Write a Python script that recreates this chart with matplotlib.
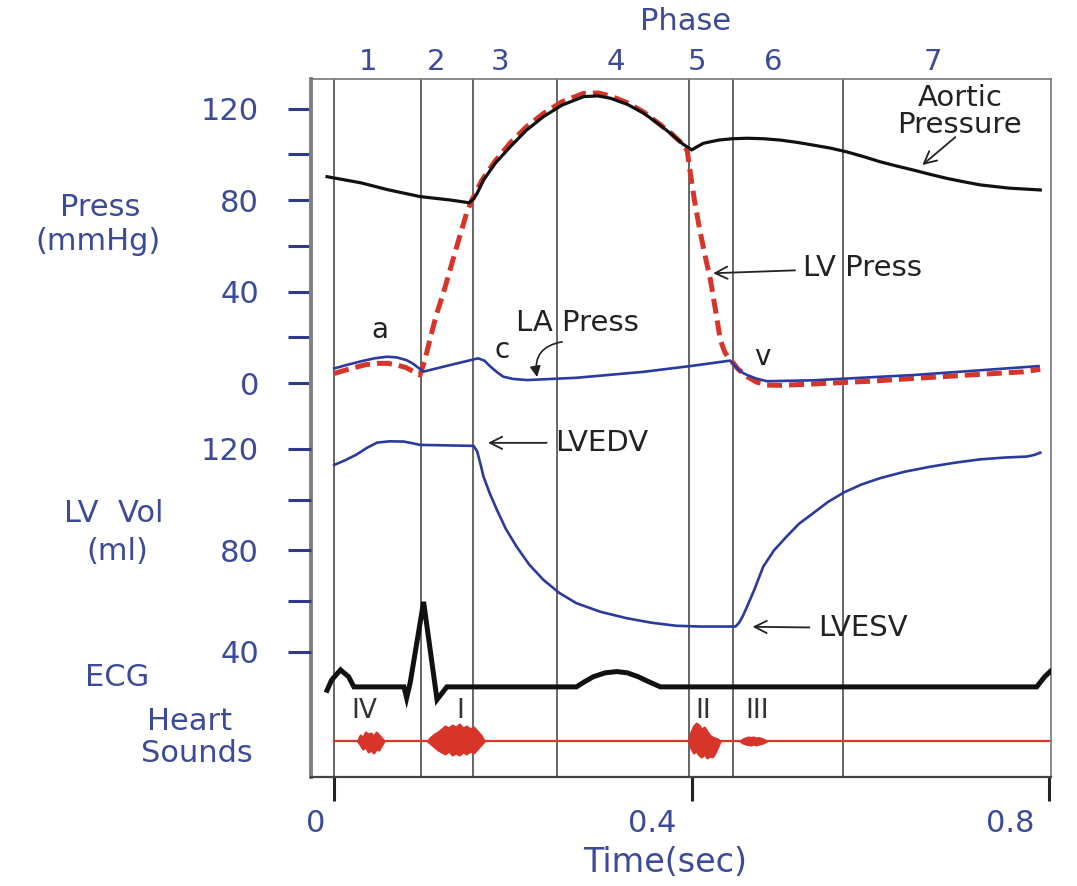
import matplotlib
matplotlib.use("Agg")
import matplotlib.pyplot as plt

plt.rcParams['font.family'] = ['DejaVu Sans']

W, H = 1077, 886
BLUE_TXT = '#3c4a98'
BLUE = '#2b3a9c'
RED = '#d7352a'

# ---- phases (s) ----
phase_t = [0.0, 0.097, 0.155, 0.249, 0.397, 0.446, 0.569]
phase_lbl = ['1', '2', '3', '4', '5', '6', '7']

# ---- aortic pressure (mmHg) ----
aortic_t = [-0.008, 0.03, 0.06, 0.096, 0.13, 0.151, 0.156, 0.160, 0.167, 0.180, 0.197, 0.215,
            0.234, 0.255, 0.279, 0.295, 0.309, 0.328, 0.346, 0.362, 0.376, 0.390, 0.400,
            0.407, 0.413, 0.43, 0.446, 0.462, 0.480, 0.499, 0.518, 0.536, 0.555, 0.573,
            0.592, 0.611, 0.630, 0.648, 0.667, 0.685, 0.704, 0.723, 0.755, 0.79]
aortic_p = [90.2, 87.5, 84.5, 81.5, 80.0, 78.8, 80.5, 83.0, 88.7, 96, 103.3, 110.5,
            116.4, 121.5, 125.2, 125.5, 124.5, 121.8, 118, 113.5, 109.2, 104.5, 101.9,
            103.5, 104.8, 106.2, 106.8, 107, 106.8, 106.2, 105.2, 104, 102.7, 101.1,
            99, 96.7, 94.8, 93.1, 91.2, 89.5, 88, 86.6, 85.2, 84.4]

# ---- LV pressure (mmHg) ----
lvp_t = [0.0, 0.02, 0.035, 0.048, 0.06, 0.07, 0.08, 0.088, 0.096, 0.101, 0.107, 0.114,
         0.122, 0.130, 0.137, 0.143, 0.148, 0.154, 0.165, 0.180, 0.197, 0.215, 0.234,
         0.255, 0.279, 0.295, 0.309, 0.328, 0.346, 0.362, 0.376, 0.390, 0.395, 0.398,
         0.403, 0.409, 0.415, 0.421, 0.427, 0.432, 0.437, 0.442, 0.446, 0.452, 0.462,
         0.472, 0.484, 0.5, 0.536, 0.60, 0.648, 0.71, 0.771, 0.79]
lvp_p = [4.2, 6.5, 8.0, 8.6, 8.6, 7.9, 6.8, 5.2, 3.5, 9.5, 18.8, 29.5,
         39.2, 50, 59.6, 67.5, 74.2, 80, 88.5, 97, 105, 112, 117.8,
         123, 126.6, 126.8, 125.5, 122.5, 118.5, 113.8, 109.5, 104.5, 101.5, 93,
         80, 66.9, 55.5, 45, 31, 18.8, 13.5, 10.5, 9, 6, 2.8,
         0.5, -0.9, -1.0, -0.4, 0.8, 2, 3.5, 4.9, 6]

# ---- LA pressure (mmHg) ----
la_t = [0.0, 0.015, 0.03, 0.045, 0.059, 0.07, 0.081, 0.088, 0.093, 0.1, 0.130, 0.161,
        0.168, 0.175, 0.182, 0.189, 0.2, 0.216, 0.271, 0.346, 0.40, 0.443, 0.447, 0.452,
        0.457, 0.462, 0.472, 0.484, 0.536, 0.648, 0.72, 0.788]
la_p = [6.4, 8.0, 9.5, 10.8, 11.5, 11.2, 10, 8.5, 7, 5, 7.9, 10.8,
        9.8, 7.1, 4.8, 2.8, 1.8, 1.3, 2.3, 4.9, 7.5, 9.8, 8, 6,
        4.5, 3.5, 2, 0.8, 1.2, 3.5, 5.5, 7.4]

# ---- LV volume (ml) ----
vol_t = [0.0, 0.012, 0.025, 0.037, 0.048, 0.062, 0.078, 0.088, 0.096, 0.125, 0.156,
         0.160, 0.164, 0.167, 0.174, 0.182, 0.192, 0.204, 0.218, 0.234, 0.252, 0.271,
         0.298, 0.327, 0.355, 0.383, 0.41, 0.449, 0.453, 0.457, 0.462, 0.470, 0.480,
         0.492, 0.506, 0.520, 0.536, 0.552, 0.570, 0.590, 0.611, 0.638, 0.667, 0.695,
         0.723, 0.750, 0.775, 0.783, 0.79]
vol_v = [113.7, 115.5, 117.8, 120.5, 122.5, 123, 122.9, 122.2, 121.6, 121.4, 121.2,
         119, 113.5, 109.1, 102.5, 96, 88.5, 81.5, 74.5, 68.4, 63.2, 59.2,
         55.8, 53.3, 51.5, 50.3, 50, 50, 51.5, 54, 57.9, 64.5, 73.6,
         80, 85.4, 90.5, 94.7, 99, 102.8, 106, 108.5, 111, 113, 114.6,
         115.9, 116.6, 117, 117.6, 118.5]

# ---- ECG (mV) ----
ecg_t = [-0.008, -0.003, 0.007, 0.016, 0.022, 0.078, 0.081, 0.085, 0.100, 0.115, 0.126,
         0.271, 0.280, 0.290, 0.303, 0.316, 0.328, 0.340, 0.352, 0.365, 0.786, 0.795, 0.801]
ecg_v = [-0.04, 0.08, 0.2, 0.12, 0.0, 0.0, -0.13, 0.05, 1.0, -0.15, 0.0,
         0.0, 0.06, 0.12, 0.165, 0.18, 0.165, 0.12, 0.06, 0.0, 0.0, 0.12, 0.18]

# ---- heart sounds (relative amplitude, envelope of each burst) ----
hs_line_t = [0.0, 0.8]
s4_t = [0.026, 0.029, 0.032, 0.035, 0.038, 0.041, 0.044, 0.047, 0.050, 0.053, 0.056]
s4_up = [0, 0.6, 0.4, 0.9, 0.7, 0.8, 0.5, 0.9, 0.6, 0.3, 0]
s4_lo = [0, -0.4, -0.8, -0.6, -1.1, -0.9, -1.2, -0.8, -0.9, -0.4, 0]
s1_t = [0.104, 0.108, 0.112, 0.116, 0.120, 0.124, 0.128, 0.132, 0.136, 0.140, 0.144,
        0.148, 0.152, 0.156, 0.160, 0.164, 0.168]
s1_up = [0, 0.4, 0.7, 0.9, 1.2, 1.5, 1.3, 1.6, 1.4, 1.7, 1.3, 1.5, 1.2, 1.4, 1.0, 0.6, 0]
s1_lo = [0, -0.3, -0.6, -0.9, -1.1, -1.3, -1.0, -1.4, -1.2, -1.4, -1.1, -1.3, -1.0, -1.2, -0.8, -0.4, 0]
s2_t = [0.396, 0.399, 0.402, 0.405, 0.408, 0.411, 0.414, 0.417, 0.420, 0.423, 0.426, 0.429, 0.432]
s2_up = [0, 0.9, 1.5, 1.8, 1.6, 1.2, 1.4, 1.0, 0.6, 0.4, 0.3, 0.2, 0]
s2_lo = [0, -0.7, -1.2, -1.0, -1.4, -1.6, -1.3, -1.7, -1.5, -1.6, -1.2, -0.6, 0]
s3_t = [0.454, 0.457, 0.460, 0.463, 0.466, 0.469, 0.472, 0.475, 0.478, 0.481, 0.484]
s3_up = [0, 0.2, 0.3, 0.4, 0.35, 0.4, 0.3, 0.35, 0.25, 0.15, 0]
s3_lo = [0, -0.2, -0.3, -0.35, -0.4, -0.3, -0.4, -0.3, -0.25, -0.15, 0]
hs_names = ['IV', 'I', 'II', 'III']
hs_name_t = [0.034, 0.141, 0.413, 0.473]

# ---------------------------------------------------------------
fig = plt.figure(figsize=(W / 100, H / 100), dpi=100)
rect = [311 / W, 1 - 777 / H, (1051 - 311) / W, (777 - 79) / H]
ax = fig.add_axes(rect)
ax_v = fig.add_axes(rect, sharex=ax, frameon=False)
ax_e = fig.add_axes(rect, sharex=ax, frameon=False)
ax_h = fig.add_axes(rect, sharex=ax, frameon=False)
for a in (ax, ax_v, ax_e, ax_h):
    a.patch.set_alpha(0)

ax.set_xlim(-0.026, 0.802)
ax.set_ylim(-172.2, 132.9)     # pressure
ax_v.set_ylim(-9.3, 265.8)     # volume
ax_e.set_ylim(-1.06, 7.15)     # ecg
ax_h.set_ylim(-3.6, 66.2)      # heart sounds

# frame
ax.spines['left'].set_linewidth(2.8)
ax.spines['left'].set_color('#808080')
ax.spines['bottom'].set_linewidth(1.6)
ax.spines['bottom'].set_color('#444444')
for s in ('top', 'right'):
    ax.spines[s].set_linewidth(1.2)
    ax.spines[s].set_color('#777777')

for t in phase_t:
    ax.axvline(t, color='#5a5a5a', lw=1.3, zorder=1)

# y ticks
ax.set_yticks([0, 20, 40, 60, 80, 100, 120])
ax.set_yticklabels(['0', '', '40', '', '80', '', '120'])
ax_v.set_yticks([40, 60, 80, 100, 120])
ax_v.set_yticklabels(['40', '', '80', '', '120'])
for a in (ax, ax_v):
    a.tick_params(axis='y', direction='out', length=16.5, width=2.2, color='#2f3b8a',
                  pad=21, labelsize=22, labelcolor=BLUE_TXT)
ax_v.yaxis.get_major_ticks()[1].tick1line.set_color('#222222')
for a in (ax_e, ax_h):
    a.set_yticks([])
for a in (ax_v, ax_e, ax_h):
    a.tick_params(axis='x', bottom=False, labelbottom=False)

# x ticks
ax.set_xticks([0, 0.4, 0.8])
ax.set_xticklabels([])
ax.tick_params(axis='x', direction='out', length=17, width=2.2, color='#222222')
for x, s in zip([316, 652, 1010], ['0', '0.4', '0.8']):
    fig.text(x / W, 1 - 823 / H, s, ha='center', va='center', fontsize=22, color=BLUE_TXT)
fig.text(665 / W, 1 - 862 / H, 'Time(sec)', ha='center', va='center', fontsize=24, color=BLUE_TXT)

# phase labels
fig.text(686 / W, 1 - 21 / H, 'Phase', ha='center', va='center', fontsize=22, color=BLUE_TXT)
for x, s in zip([368, 436, 500, 616, 697, 773, 933], phase_lbl):
    fig.text(x / W, 1 - 62 / H, s, ha='center', va='center', fontsize=21, color=BLUE_TXT)

# left labels
for x, y, s in [(100, 208, 'Press'), (98, 241, '(mmHg)'), (114, 514, 'LV  Vol'),
                (117, 552, '(ml)'), (117, 677, 'ECG'), (190, 721, 'Heart'),
                (197, 754, 'Sounds')]:
    fig.text(x / W, 1 - y / H, s, ha='center', va='center', fontsize=22, color=BLUE_TXT)

# curves
ax.plot(lvp_t, lvp_p, color=RED, lw=3.6, dashes=(3.0, 1.4), zorder=3)
ax.plot(aortic_t, aortic_p, color='#111111', lw=2.3, zorder=4)
ax.plot(la_t, la_p, color=BLUE, lw=1.9, zorder=5)
ax_v.plot(vol_t, vol_v, color=BLUE, lw=1.9)
ax_e.plot(ecg_t, ecg_v, color='#111111', lw=3.6, solid_joinstyle='miter')

ax_h.plot(hs_line_t, [0, 0], color=RED, lw=1.6)
for bt, up, lo in [(s4_t, s4_up, s4_lo), (s1_t, s1_up, s1_lo),
                   (s2_t, s2_up, s2_lo), (s3_t, s3_up, s3_lo)]:
    ax_h.fill_between(bt, lo, up, color=RED, lw=1.5, edgecolor=RED)
for t, s in zip(hs_name_t, hs_names):
    ax_h.text(t, 3.0, s, ha='center', va='center', fontsize=19, color='#333333')

# annotations
TXT = '#222222'
arr = dict(arrowstyle='->', color=TXT, lw=1.3, shrinkA=4, shrinkB=0,
           mutation_scale=22)
ax.text(0.700, 118.5, 'Aortic\nPressure', ha='center', va='center', fontsize=21,
        color=TXT, linespacing=0.95)
ax.annotate('', xy=(0.658, 95.3), xytext=(0.695, 107.5),
            arrowprops=dict(arr, shrinkA=0))
ax.annotate('LV Press', xy=(0.424, 48), xytext=(0.525, 50.3),
            ha='left', va='center', fontsize=21, color=TXT, arrowprops=arr)
ax.text(0.272, 26.2, 'LA Press', ha='center', va='center', fontsize=21, color=TXT)
ax.annotate('', xy=(0.227, 2.6), xytext=(0.255, 18.0),
            arrowprops=dict(arrowstyle='-|>', color=TXT, lw=1.2, mutation_scale=16,
                            shrinkA=0, shrinkB=0, connectionstyle='arc3,rad=0.5'))
ax.text(0.051, 23.2, 'a', ha='center', va='center', fontsize=20, color=TXT)
ax.text(0.188, 14.4, 'c', ha='center', va='center', fontsize=20, color=TXT)
ax.text(0.479, 11.4, 'v', ha='center', va='center', fontsize=20, color=TXT)
ax_v.annotate('LVEDV', xy=(0.172, 122.4), xytext=(0.247, 122.4),
              ha='left', va='center', fontsize=21, color=TXT, arrowprops=arr)
ax_v.annotate('LVESV', xy=(0.468, 49.9), xytext=(0.541, 49.4),
              ha='left', va='center', fontsize=21, color=TXT, arrowprops=arr)

fig.savefig('out.png', dpi=100)
